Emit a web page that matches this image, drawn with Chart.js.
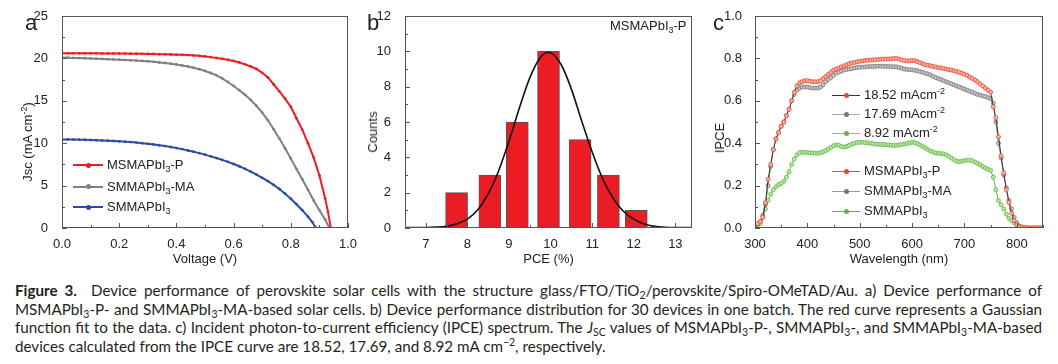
<!DOCTYPE html>
<html>
<head>
<meta charset="utf-8">
<script src="https://cdn.jsdelivr.net/npm/chart.js@4.4.1/dist/chart.umd.min.js"></script>
<style>
  body { margin: 0; width: 1058px; height: 364px; background: #fff; position: relative; overflow: hidden;
         font-family: "Liberation Sans", Arial, sans-serif; color: #222; }
  canvas { position: absolute; top: 0; }
  .t { position: absolute; white-space: nowrap; font-size: 13px; line-height: 16px; }
  .t sub { font-size: 9px; vertical-align: -3px; line-height: 0; }
  .t sup { font-size: 9px; vertical-align: 5px; line-height: 0; }
  .yt { position: absolute; white-space: nowrap; font-size: 13px; line-height: 16px;
        transform: translate(-50%, -50%) rotate(-90deg); }
  .yt sup { font-size: 9px; vertical-align: 5px; line-height: 0; }
  .lbl { position: absolute; font-size: 22px; line-height: 22px; }
  .cap { position: absolute; left: 15px; top: 281px; width: 1027px; font-family: Lato, "Open Sans", sans-serif;
         font-size: 15.2px; line-height: 18.6px; color: #231f20; }
  .cap div { text-align: justify; text-align-last: justify; white-space: nowrap; }
  .cap div.last { text-align-last: left; }
  .cap sub { font-size: 10.5px; vertical-align: -3px; line-height: 0; }
  .cap sup { font-size: 10.5px; vertical-align: 6px; line-height: 0; }
</style>
</head>
<body>
<canvas id="ca" width="362" height="272" style="left:0"></canvas>
<canvas id="cb" width="352" height="272" style="left:352px"></canvas>
<canvas id="cc" width="354" height="272" style="left:704px"></canvas>

<div class="lbl" style="left:25px;top:12px">a</div>
<div class="lbl" style="left:367px;top:12px">b</div>
<div class="lbl" style="left:713px;top:12px">c</div>
<div class="t" style="left:610px;top:18px">MSMAPbI<sub>3</sub>-P</div>
<div class="yt" style="left:28px;top:142px">Jsc (mA cm<sup>-2</sup>)</div>
<div class="yt" style="left:373px;top:132px">Counts</div>
<div class="yt" style="left:720px;top:138px">IPCE</div>

<div class="cap">
  <div><b>Figure 3.</b>&nbsp; Device performance of perovskite solar cells with the structure glass/FTO/TiO<sub>2</sub>/perovskite/Spiro-OMeTAD/Au. a) Device performance of</div>
  <div>MSMAPbI<sub>3</sub>-P- and SMMAPbI<sub>3</sub>-MA-based solar cells. b) Device performance distribution for 30 devices in one batch. The red curve represents a Gaussian</div>
  <div>function fit to the data. c) Incident photon-to-current efficiency (IPCE) spectrum. The <i>J</i><sub>SC</sub> values of MSMAPbI<sub>3</sub>-P-, SMMAPbI<sub>3</sub>-, and SMMAPbI<sub>3</sub>-MA-based</div>
  <div class="last">devices calculated from the IPCE curve are 18.52, 17.69, and 8.92 mA cm<sup>&minus;2</sup>, respectively.</div>
</div>

<script>
// a) J-V curves
const vGrid = [0, 0.02, 0.04, 0.06, 0.08, 0.10, 0.12, 0.14, 0.16, 0.18, 0.20, 0.22, 0.24, 0.26, 0.28, 0.30,
  0.32, 0.34, 0.36, 0.38, 0.40, 0.42, 0.44, 0.46, 0.48, 0.50, 0.52, 0.54, 0.56, 0.58, 0.60, 0.62, 0.64,
  0.66, 0.68, 0.70, 0.72, 0.74, 0.76, 0.78, 0.80, 0.82, 0.84, 0.86];
const voltageP = vGrid.concat([0.88, 0.90, 0.92, 0.93, 0.94]);
const voltageMA = vGrid.concat([0.88, 0.90, 0.92, 0.935]);
const voltageS = vGrid.concat([0.875, 0.888]);

const jscP = [20.6, 20.6, 20.6, 20.6, 20.6, 20.6, 20.6, 20.59, 20.59, 20.58, 20.58, 20.57, 20.56, 20.55, 20.54, 20.53,
  20.52, 20.5, 20.48, 20.46, 20.44, 20.42, 20.39, 20.35, 20.3, 20.23, 20.15, 20.05, 19.95, 19.83, 19.7, 19.52, 19.3,
  19.05, 18.75, 18.3, 17.75, 16.95, 16.1, 15.25, 14.3, 12.95, 11.6, 10.0,
  8.3, 6.2, 3.5, 1.9, 0];
const jscMA = [20.1, 20.08, 20.06, 20.04, 20.02, 20.0, 19.97, 19.94, 19.91, 19.88, 19.85, 19.82, 19.78, 19.74, 19.7, 19.65,
  19.6, 19.53, 19.46, 19.38, 19.28, 19.17, 19.05, 18.9, 18.73, 18.52, 18.28, 18.0, 17.65, 17.22, 16.75, 16.25, 15.7,
  15.1, 14.4, 13.6, 12.7, 11.65, 10.55, 9.4, 8.2, 6.95, 5.75, 4.5,
  3.25, 2.1, 1.0, 0];
const jscS = [10.45, 10.44, 10.43, 10.42, 10.4, 10.38, 10.35, 10.32, 10.29, 10.26, 10.22, 10.18, 10.13, 10.07, 10.0, 9.93,
  9.85, 9.76, 9.66, 9.55, 9.43, 9.3, 9.15, 9.0, 8.83, 8.65, 8.45, 8.25, 8.03, 7.8, 7.55, 7.28, 6.98,
  6.65, 6.3, 5.92, 5.52, 5.08, 4.6, 4.05, 3.45, 2.8, 2.1, 1.35,
  0.7, 0];
const jvNames = ['MSMAPbI<sub>3</sub>-P', 'SMMAPbI<sub>3</sub>-MA', 'SMMAPbI<sub>3</sub>'];

// b) PCE histogram and Gaussian fit
const pceCenters = [7.74, 8.54, 9.2, 9.95, 10.71, 11.39, 12.06];
const pceCounts = [2, 3, 6, 10, 5, 3, 1];
const fitPce = [6.5, 7, 7.25, 7.5, 7.75, 8, 8.25, 8.5, 8.75, 9, 9.25, 9.5, 9.75, 9.95, 10.25, 10.5, 10.75,
  11, 11.25, 11.5, 11.75, 12, 12.25, 12.5, 12.75, 13, 13.4];
const fitCounts = [0.03, 0.03, 0.05, 0.1, 0.24, 0.5, 1.03, 1.93, 3.23, 4.92, 6.79, 8.5, 9.64, 9.95, 9.27, 7.86, 6.04,
  4.3, 2.8, 1.7, 0.95, 0.5, 0.22, 0.09, 0.04, 0.03, 0.03];

// c) IPCE spectra
const wavelength = [300, 305, 310, 315, 320, 325, 330, 335, 340, 345, 350, 355, 360, 365, 370, 375, 380, 385, 390, 395,
  400, 405, 410, 415, 420, 425, 430, 435, 440, 445, 450, 455, 460, 465, 470, 475, 480, 485, 490, 495,
  500, 505, 510, 515, 520, 525, 530, 535, 540, 545, 550, 555, 560, 565, 570, 575, 580, 585, 590, 595,
  600, 605, 610, 615, 620, 625, 630, 635, 640, 645, 650, 655, 660, 665, 670, 675, 680, 685, 690, 695,
  700, 705, 710, 715, 720, 725, 730, 735, 740, 745, 750, 755, 760, 765, 770, 775, 780, 785, 790, 795,
  800, 805, 810, 815, 820, 825, 830, 835, 840, 845, 850];
const ipceP = [0.00, 0.02, 0.03, 0.05, 0.12, 0.23, 0.30, 0.37, 0.42, 0.45, 0.48, 0.50, 0.53, 0.56, 0.60, 0.64, 0.67, 0.685, 0.69, 0.695,
  0.695, 0.692, 0.69, 0.69, 0.69, 0.695, 0.705, 0.715, 0.725, 0.735, 0.745, 0.75, 0.755, 0.76, 0.765, 0.77, 0.775, 0.778, 0.781, 0.784,
  0.786, 0.788, 0.79, 0.791, 0.792, 0.793, 0.794, 0.795, 0.796, 0.797, 0.797, 0.797, 0.798, 0.799, 0.80, 0.797, 0.793, 0.79, 0.788, 0.789,
  0.79, 0.789, 0.785, 0.78, 0.775, 0.77, 0.768, 0.765, 0.762, 0.76, 0.757, 0.755, 0.753, 0.75, 0.747, 0.745, 0.742, 0.738, 0.735, 0.73,
  0.725, 0.72, 0.712, 0.705, 0.698, 0.69, 0.68, 0.67, 0.66, 0.65, 0.64, 0.572, 0.52, 0.43, 0.34, 0.26, 0.18, 0.12, 0.07, 0.035,
  0.015, 0.006, 0.003, 0.002, 0, 0, 0, 0, 0, 0, 0];
const ipceMA = [0.01, 0.02, 0.03, 0.06, 0.11, 0.20, 0.29, 0.37, 0.42, 0.45, 0.48, 0.50, 0.53, 0.56, 0.60, 0.63, 0.65, 0.66, 0.665, 0.665,
  0.665, 0.662, 0.66, 0.66, 0.66, 0.665, 0.675, 0.69, 0.70, 0.71, 0.72, 0.73, 0.735, 0.74, 0.745, 0.748, 0.75, 0.752, 0.755, 0.757,
  0.758, 0.759, 0.76, 0.761, 0.762, 0.762, 0.763, 0.763, 0.763, 0.763, 0.762, 0.762, 0.761, 0.761, 0.76, 0.757, 0.754, 0.75, 0.748, 0.747,
  0.746, 0.744, 0.742, 0.738, 0.735, 0.73, 0.727, 0.722, 0.716, 0.71, 0.705, 0.70, 0.695, 0.69, 0.685, 0.68, 0.675, 0.67, 0.665, 0.66,
  0.655, 0.65, 0.645, 0.64, 0.635, 0.63, 0.627, 0.623, 0.62, 0.615, 0.61, 0.59, 0.50, 0.40, 0.33, 0.25, 0.19, 0.13, 0.09, 0.05,
  0.025, 0.01, 0.005, 0.003, 0, 0, 0, 0, 0, 0, 0];
const ipceS = [0.00, 0.00, 0.02, 0.05, 0.09, 0.13, 0.16, 0.18, 0.195, 0.205, 0.21, 0.22, 0.24, 0.265, 0.30, 0.325, 0.345, 0.355, 0.357, 0.357,
  0.356, 0.355, 0.354, 0.353, 0.352, 0.355, 0.36, 0.365, 0.372, 0.38, 0.388, 0.392, 0.39, 0.384, 0.382, 0.385, 0.39, 0.396, 0.40, 0.403,
  0.404, 0.404, 0.403, 0.402, 0.40, 0.398, 0.396, 0.395, 0.394, 0.394, 0.393, 0.392, 0.39, 0.389, 0.39, 0.392, 0.394, 0.396, 0.398, 0.401,
  0.404, 0.403, 0.398, 0.392, 0.385, 0.378, 0.37, 0.363, 0.358, 0.354, 0.352, 0.351, 0.35, 0.345, 0.338, 0.33, 0.322, 0.315, 0.313, 0.315,
  0.318, 0.32, 0.32, 0.317, 0.311, 0.305, 0.298, 0.29, 0.283, 0.277, 0.272, 0.24, 0.18, 0.13, 0.11, 0.09, 0.065, 0.045, 0.035, 0.025,
  0.012, 0.006, 0.003, 0.002, 0, 0, 0, 0, 0, 0, 0];
const ipceJsc = ['18.52 mAcm<sup>-2</sup>', '17.69 mAcm<sup>-2</sup>', '8.92 mAcm<sup>-2</sup>'];

Chart.defaults.font.family = '"Liberation Sans", Arial, sans-serif';
Chart.defaults.font.size = 13;
Chart.defaults.color = '#222';

const pts = (xs, ys) => xs.map((x, i) => ({ x: x, y: ys[i] }));
const fitX = h => s => { s.height = h; s.paddingLeft = 0; s.paddingRight = 0; };
const fitY = w => s => { s.width = w; s.paddingTop = 0; s.paddingBottom = 0; };

// box round the plot plus inward major/minor ticks on bottom and left
const frameTicks = {
  id: 'frameTicks',
  afterDraw(chart, args, o) {
    const { ctx, chartArea: a, scales } = chart;
    ctx.save();
    ctx.strokeStyle = '#555';
    ctx.lineWidth = 1;
    ctx.strokeRect(a.left + 0.5, a.top + 0.5, a.right - a.left - 1, a.bottom - a.top - 1);
    ctx.beginPath();
    const mark = (scale, step, len) => {
      const i0 = Math.ceil(scale.min / step - 1e-6), i1 = Math.floor(scale.max / step + 1e-6);
      for (let i = i0; i <= i1; i++) {
        const p = Math.round(scale.getPixelForValue(i * step)) + 0.5;
        if (scale.isHorizontal()) { ctx.moveTo(p, a.bottom); ctx.lineTo(p, a.bottom - len); }
        else { ctx.moveTo(a.left, p); ctx.lineTo(a.left + len, p); }
      }
    };
    mark(scales.x, o.xMinor, 3); mark(scales.x, o.xMajor, 5);
    mark(scales.y, o.yMinor, 3); mark(scales.y, o.yMajor, 5);
    ctx.stroke();
    ctx.restore();
  }
};

function axes(xo, yo) {
  const base = { grid: { display: false }, border: { display: false } };
  return {
    x: Object.assign({}, base, { type: 'linear', min: xo.min, max: xo.max, offset: false,
      ticks: { stepSize: xo.step, padding: 1, maxRotation: 0, autoSkip: false, includeBounds: false, callback: xo.fmt },
      title: { display: true, text: xo.title, padding: { top: 0, bottom: 5 } },
      afterFit: fitX(44) }),
    y: Object.assign({}, base, { min: yo.min, max: yo.max,
      ticks: { stepSize: yo.step, padding: yo.pad, autoSkip: false, callback: yo.fmt },
      title: { display: false },
      afterFit: fitY(yo.width) })
  };
}

function jvSet(xs, ys, color) {
  return { data: pts(xs, ys), borderColor: color, backgroundColor: color, borderWidth: 2,
    pointRadius: 1.4, pointBorderWidth: 0, pointBackgroundColor: color };
}

new Chart(document.getElementById('ca'), {
  type: 'line',
  data: { datasets: [
    jvSet(voltageP, jscP, '#ee1c25'),
    jvSet(voltageMA, jscMA, '#808080'),
    jvSet(voltageS, jscS, '#2b4ca2')
  ] },
  options: {
    responsive: false, animation: false,
    layout: { padding: { top: 16, right: 14, left: 0, bottom: 0 } },
    plugins: { legend: { display: false }, tooltip: { enabled: false },
      frameTicks: { xMajor: 0.2, xMinor: 0.1, yMajor: 5, yMinor: 2.5 } },
    scales: axes(
      { min: 0, max: 1, step: 0.2, title: 'Voltage (V)', fmt: v => v.toFixed(1) },
      { min: 0, max: 25, step: 5, pad: 6, width: 62, fmt: v => v })
  },
  plugins: [frameTicks]
});

new Chart(document.getElementById('cb'), {
  type: 'bar',
  data: { datasets: [
    { type: 'line', order: 0, data: pts(fitPce, fitCounts), borderColor: '#111', borderWidth: 1.6,
      pointRadius: 0, cubicInterpolationMode: 'monotone' },
    { type: 'bar', order: 1, data: pts(pceCenters, pceCounts), backgroundColor: '#ec1c24',
      borderColor: '#555', borderWidth: 1, barThickness: 22 }
  ] },
  options: {
    responsive: false, animation: false,
    layout: { padding: { top: 16, right: 12, left: 0, bottom: 0 } },
    plugins: { legend: { display: false }, tooltip: { enabled: false },
      frameTicks: { xMajor: 1, xMinor: 0.5, yMajor: 2, yMinor: 1 } },
    scales: axes(
      { min: 6.5, max: 13.4, step: 1, title: 'PCE (%)', fmt: v => v },
      { min: 0, max: 12, step: 2, pad: 6, width: 53, fmt: v => v })
  },
  plugins: [frameTicks]
});

function ipceSet(ys, color, tint, line) {
  return { data: pts(wavelength, ys), borderColor: line, borderWidth: 1,
    pointRadius: 2, pointBorderWidth: 0.8, pointBorderColor: color, pointBackgroundColor: tint };
}

new Chart(document.getElementById('cc'), {
  type: 'line',
  data: { datasets: [
    ipceSet(ipceP, '#f0442a', '#f9b7a6', '#333'),
    ipceSet(ipceMA, '#777', '#c8c8c8', '#888'),
    ipceSet(ipceS, '#5cb83e', '#bfe5ae', '#5cb83e')
  ] },
  options: {
    responsive: false, animation: false,
    layout: { padding: { top: 16, right: 15, left: 0, bottom: 0 } },
    plugins: { legend: { display: false }, tooltip: { enabled: false },
      frameTicks: { xMajor: 100, xMinor: 50, yMajor: 0.2, yMinor: 0.1 } },
    scales: axes(
      { min: 300, max: 850, step: 100, title: 'Wavelength (nm)', fmt: v => v },
      { min: 0, max: 1, step: 0.2, pad: 5, width: 51, fmt: v => v.toFixed(1) })
  },
  plugins: [frameTicks]
});

// legends as html so the subscripts stay real text
function legendRow(x, y, html, lineColor, dotColor, len, thick) {
  const row = document.createElement('div');
  row.className = 't';
  row.style.left = x + 'px';
  row.style.top = (y - 8) + 'px';
  row.innerHTML =
    '<span style="display:inline-block;position:relative;width:' + len + 'px;height:16px;vertical-align:top;margin-right:4px">' +
    '<span style="position:absolute;left:0;right:0;top:' + (8 - thick / 2) + 'px;height:' + thick + 'px;background:' + lineColor + '"></span>' +
    '<span style="position:absolute;left:' + (len / 2 - 2.5) + 'px;top:5.5px;width:5px;height:5px;border-radius:50%;background:' + dotColor + '"></span>' +
    '</span>' + html;
  document.body.appendChild(row);
}
const jvColors = ['#ee1c25', '#808080', '#2b4ca2'];
[165, 186.5, 207].forEach((y, i) => legendRow(73, y, jvNames[i], jvColors[i], jvColors[i], 30, 2));
const ipceDots = ['#f0442a', '#777', '#5cb83e'];
const ipceLines = ['#333', '#aaa', '#7ccc5e'];
[95, 114, 133].forEach((y, i) => legendRow(832, y, ipceJsc[i], ipceLines[i], ipceDots[i], 28, 1));
const ipceLines2 = ['#777', '#999', '#5cb83e'];
[171, 191, 211].forEach((y, i) => legendRow(832, y, jvNames[i], ipceLines2[i], ipceDots[i], 28, 1));
</script>
</body>
</html>
